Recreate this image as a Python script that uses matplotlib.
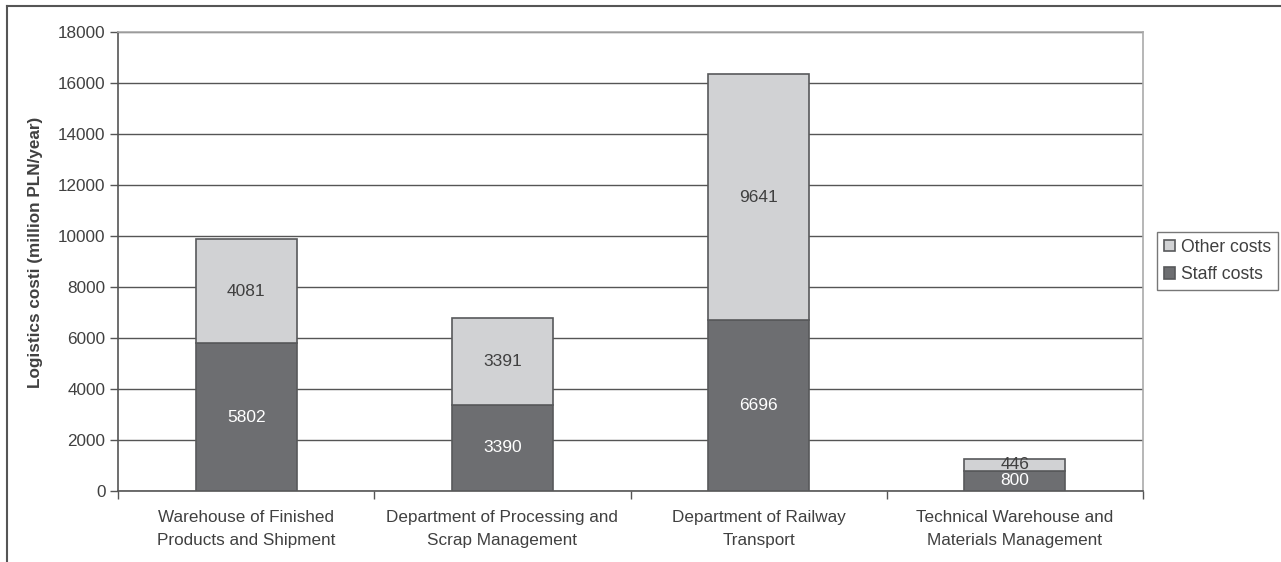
import matplotlib.pyplot as plt
from matplotlib.lines import Line2D

plt.rcParams['font.family'] = ['Liberation Sans', 'DejaVu Sans']

departments = ['Warehouse of Finished\nProducts and Shipment',
               'Department of Processing and\nScrap Management',
               'Department of Railway\nTransport',
               'Technical Warehouse and\nMaterials Management']
staff_costs = [5802, 3390, 6696, 800]
other_costs = [4081, 3391, 9641, 446]
y_ticks = [0, 2000, 4000, 6000, 8000, 10000, 12000, 14000, 16000, 18000]

text_col = '#404040'
dark = '#6d6e71'
light = '#d1d2d4'
edge = '#58595b'

fig = plt.figure(figsize=(12.81, 5.62), dpi=100)
ax = fig.add_axes([118 / 1281, 1 - 491 / 562, (1143 - 118) / 1281, (491 - 32) / 562])

x = range(len(departments))
b1 = ax.bar(x, staff_costs, width=0.395, color=dark, edgecolor=edge, linewidth=1.2,
            label='Staff costs', zorder=3)
b2 = ax.bar(x, other_costs, width=0.395, bottom=staff_costs, color=light, edgecolor=edge,
            linewidth=1.2, label='Other costs', zorder=3)

for i, (s, o) in enumerate(zip(staff_costs, other_costs)):
    ax.text(i, s / 2, str(s), ha='center', va='center', color='white', fontsize=12.5, zorder=4)
    ax.text(i, s + o / 2, str(o), ha='center', va='center', color=text_col, fontsize=12.5, zorder=4)

ax.set_xlim(-0.5, 3.5)
ax.set_ylim(0, 18000)
ax.set_yticks(y_ticks)
ax.set_yticklabels([str(t) for t in y_ticks])
ax.set_xticks([-0.5, 0.5, 1.5, 2.5, 3.5], minor=False)
ax.set_xticklabels([])
ax.set_xticks(list(x), minor=True)
ax.set_xticklabels(departments, minor=True, fontsize=12.3, color=text_col, linespacing=1.6)
ax.tick_params(axis='x', which='minor', length=0, pad=14)
ax.tick_params(axis='x', which='major', length=6, width=1, color='#555555', direction='out')
ax.tick_params(axis='y', length=6, width=1, color='#555555', labelsize=12.3,
               labelcolor=text_col, pad=3)

ax.grid(axis='y', color='#555555', linewidth=1, zorder=0)
ax.set_axisbelow(True)
for side in ['top', 'right']:
    ax.spines[side].set_color('#aaaaaa')
    ax.spines[side].set_linewidth(1.2)
for side in ['left', 'bottom']:
    ax.spines[side].set_color('#555555')
    ax.spines[side].set_linewidth(1.2)

ax.set_ylabel('Logistics costi (million PLN/year)', fontsize=12.3, fontweight='bold',
              color=text_col)
ax.yaxis.set_label_coords(-0.073, 0.52)

leg = fig.legend(handles=[b2, b1], labels=['Other costs', 'Staff costs'],
                 loc='center left', bbox_to_anchor=(1157 / 1281, 1 - 261 / 562),
                 frameon=True, fancybox=False, edgecolor='#555555', fontsize=12.7,
                 handlelength=0.6, handleheight=0.6, handletextpad=0.35,
                 borderpad=0.4, labelspacing=0.6, borderaxespad=0)
leg.get_frame().set_linewidth(1.0)
for t in leg.get_texts():
    t.set_color(text_col)

# outer frame lines along the top and left edges
fig.add_artist(Line2D([7 / 1281, 1], [1 - 6 / 562, 1 - 6 / 562], color='#555555', linewidth=1.5))
fig.add_artist(Line2D([7 / 1281, 7 / 1281], [0, 1 - 6 / 562], color='#555555', linewidth=1.5))

fig.savefig('out.png', dpi=100)
